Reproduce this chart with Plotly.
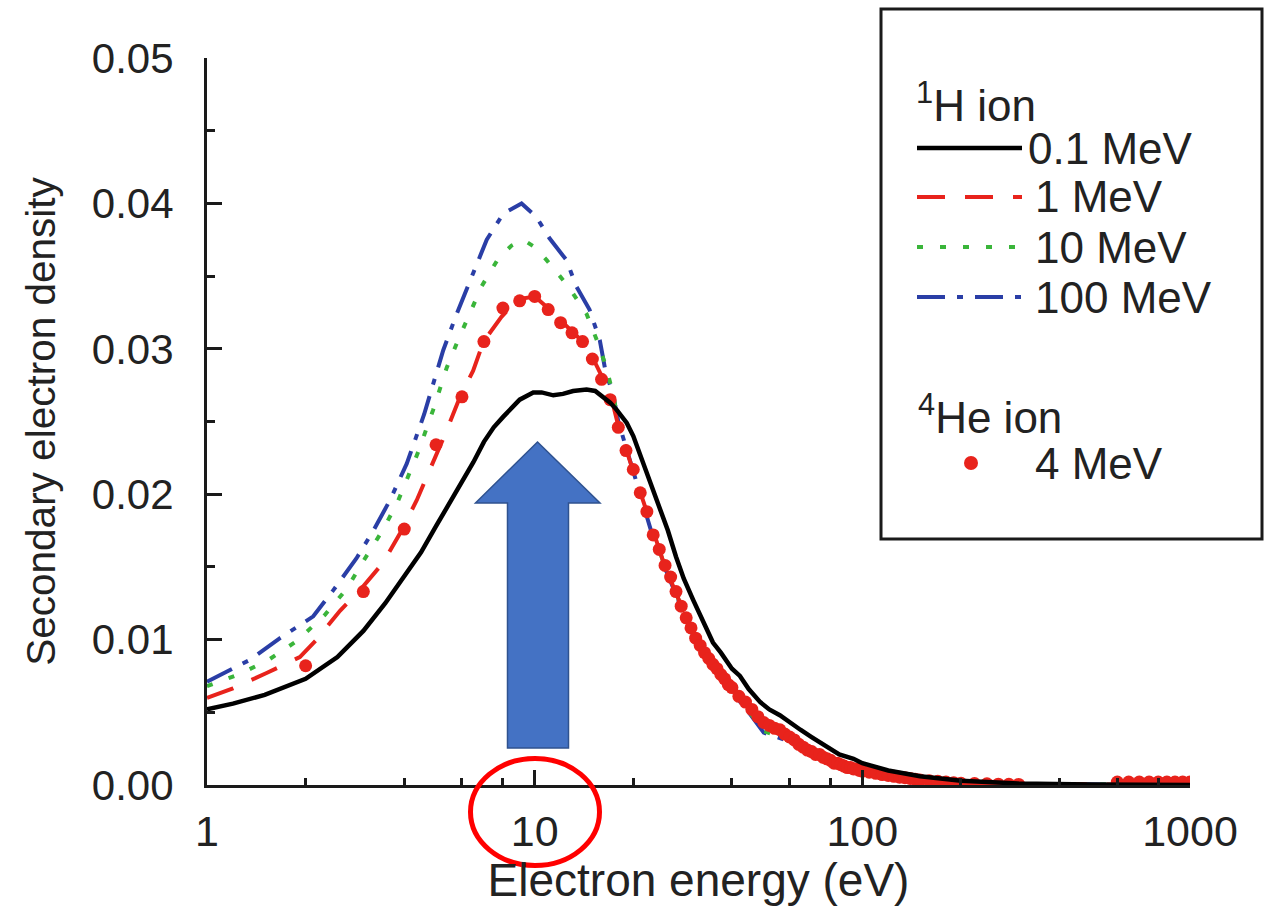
import plotly.graph_objects as go

# ---------------- data ----------------
e_h01 = [1.0, 1.2, 1.5, 2.0, 2.5, 3.0, 3.5, 4.0, 4.5, 5.0, 5.5, 6.0, 6.5, 7.0, 7.5, 8.0, 8.6, 9.0, 9.9,
         10.5, 11.4, 12.2, 13.1, 14.4, 15.3, 16.2, 17.0, 17.8, 19.1, 20.0, 21.5, 23.0, 24.1, 25.5, 27.0,
         28.5, 30.5, 33.0, 35.0, 37.0, 38.5, 40.0, 42.3, 45.0, 48.8, 52.0, 56.0, 60.0, 64.7, 70.0, 77.8,
         85.0, 94.0, 100.0, 120.0, 150.0, 200.0, 300.0, 500.0, 1000.0]
d_h01 = [0.0052, 0.0056, 0.0062, 0.0073, 0.0088, 0.0106, 0.0125, 0.0143, 0.0160, 0.0178, 0.0194, 0.0208,
         0.0222, 0.0236, 0.0246, 0.0253, 0.0260, 0.0265, 0.0270, 0.0270, 0.0268, 0.0269, 0.0271, 0.0272,
         0.0271, 0.0267, 0.0263, 0.0258, 0.0249, 0.0240, 0.0221, 0.0202, 0.0191, 0.0175, 0.0157, 0.0142,
         0.0127, 0.0111, 0.0098, 0.0091, 0.0086, 0.0080, 0.0075, 0.0066, 0.0057, 0.0052, 0.0048, 0.0043,
         0.0038, 0.0033, 0.0026, 0.0021, 0.0018, 0.0015, 0.0010, 0.0006, 0.0003, 0.0001, 0.00003, 0.0]

e_h1 = [1.0, 1.2, 1.52, 1.92, 2.16, 2.55, 2.93, 3.45, 3.88, 4.37, 4.79, 5.3, 5.92, 6.49, 6.98, 7.92, 8.9,
        10.0, 11.1, 12.2, 13.7, 15.1, 16.2, 17.2, 18.0, 19.0, 20.0, 22.0, 25.0, 27.0, 30.0, 33.0, 36.0,
        40.0, 45.0, 50.0, 60.0, 70.0, 80.0, 100.0, 150.0, 200.0, 1000.0]
d_h1 = [0.0060, 0.00665, 0.0077, 0.0088, 0.0100, 0.0120, 0.0134, 0.0153, 0.0173, 0.0196, 0.0217, 0.0240,
        0.0267, 0.0285, 0.0305, 0.0322, 0.0334, 0.0336, 0.0327, 0.0318, 0.0307, 0.0293, 0.0279, 0.0265,
        0.0247, 0.0231, 0.0216, 0.0187, 0.0150, 0.0132, 0.0107, 0.0090, 0.0079, 0.0066, 0.0053, 0.0040,
        0.0031, 0.0023, 0.0017, 0.0009, 0.0003, 0.0001, 0.0]

e_h10 = [1.0, 1.25, 1.54, 1.88, 2.29, 2.67, 3.0, 3.41, 3.79, 4.11, 4.41, 4.9, 5.39, 5.84, 6.34, 6.89, 7.74,
         8.5, 9.23, 10.0, 10.88, 12.65, 14.4, 15.6, 16.5, 17.3, 18.0, 19.0, 20.0, 22.0, 25.0, 27.0, 30.0,
         33.0, 36.0, 40.0, 45.0, 50.0, 55.0, 60.0, 70.0, 80.0, 100.0, 150.0, 200.0, 1000.0]
d_h10 = [0.0068, 0.0076, 0.0086, 0.0099, 0.0117, 0.0135, 0.0154, 0.0174, 0.0193, 0.0212, 0.0229, 0.0258,
         0.0287, 0.0306, 0.0324, 0.0343, 0.0362, 0.0371, 0.0375, 0.0370, 0.0361, 0.0343, 0.0324, 0.0304,
         0.0288, 0.0270, 0.0250, 0.0233, 0.0216, 0.0186, 0.0150, 0.0132, 0.0107, 0.0090, 0.0078, 0.0065,
         0.0051, 0.0037, 0.0034, 0.0030, 0.0022, 0.0016, 0.0009, 0.0003, 0.0001, 0.0]

e_h100 = [1.0, 1.2, 1.35, 1.67, 2.11, 2.43, 2.86, 3.22, 3.62, 4.07, 4.6, 5.26, 5.78, 6.49, 7.14, 8.02, 9.12,
          10.1, 11.1, 12.5, 13.4, 14.7, 15.8, 16.5, 17.3, 18.0, 19.0, 20.0, 21.0, 22.0, 23.0, 24.0, 25.0,
          27.0, 30.0, 33.0, 36.0, 40.0, 45.0, 50.0, 55.0, 60.0, 70.0, 80.0, 100.0, 150.0, 200.0, 1000.0]
d_h100 = [0.0071, 0.0080, 0.0086, 0.0101, 0.0116, 0.0134, 0.0156, 0.0175, 0.0196, 0.0221, 0.0255, 0.0299,
          0.0324, 0.0352, 0.0375, 0.0393, 0.0400, 0.0391, 0.0376, 0.0361, 0.0343, 0.0327, 0.0306, 0.0283,
          0.0270, 0.0250, 0.0232, 0.0215, 0.0199, 0.0185, 0.0170, 0.0160, 0.0149, 0.0131, 0.0106, 0.0089,
          0.0077, 0.0064, 0.0050, 0.0036, 0.0033, 0.0030, 0.0022, 0.0016, 0.0009, 0.0003, 0.0001, 0.0]

e_he4 = [2, 3, 4, 5, 6, 7, 8, 9, 10, 11, 12, 13, 14, 15, 16, 17, 18, 19, 20, 21, 22, 23, 24, 25, 26, 27,
         28, 29, 30, 31, 32, 33, 34, 35, 36, 37, 38, 39, 40, 42, 44, 46, 48, 50, 52, 54, 56, 58, 60, 62,
         64, 66, 68, 70, 72, 74, 76, 78, 80, 82, 84, 86, 88, 90, 92, 94, 96, 98, 100, 105, 110, 115, 120,
         125, 130, 135, 140, 145, 150, 160, 170, 180, 190, 200, 220, 240, 260, 280, 300,
         600, 650, 700, 750, 800, 850, 900, 950, 1000]
d_he4 = [0.0082, 0.0133, 0.0176, 0.0234, 0.0267, 0.0305, 0.0328, 0.0333, 0.0336, 0.0327, 0.0318, 0.0311,
         0.0305, 0.0293, 0.0279, 0.0265, 0.0246, 0.0230, 0.0217, 0.0201, 0.0188, 0.0172, 0.0162, 0.0151,
         0.0143, 0.0133, 0.0123, 0.0115, 0.0108, 0.0101, 0.0096, 0.0091, 0.0087, 0.0083, 0.0080, 0.0076,
         0.0073, 0.0069, 0.0067, 0.0061, 0.0057, 0.0052, 0.0047, 0.0043, 0.0041, 0.0039, 0.0038, 0.0035,
         0.0033, 0.0031, 0.0028, 0.0026, 0.0024, 0.0023, 0.0021, 0.0021, 0.0019, 0.0018, 0.0017, 0.0015,
         0.0015, 0.0014, 0.0013, 0.0012, 0.0012, 0.0011, 0.0011, 0.0010, 0.00095, 0.00088, 0.00080,
         0.00072, 0.00066, 0.00060, 0.00054, 0.00050, 0.00045, 0.00040, 0.00035, 0.00030, 0.00025,
         0.00020, 0.00016, 0.00012, 0.00010, 0.00008, 0.00006, 0.00005, 0.00004,
         0.0002, 0.0002, 0.0002, 0.0002, 0.0002, 0.0002, 0.0002, 0.0002, 0.0002]

x_tick_vals = [1, 10, 100, 1000]
x_tick_text = ["1", "10", "100", "1000"]
x_minor_vals = [2, 4, 6, 8, 20, 40, 60, 80, 200, 400, 600, 800]

legend_h_title = "<sup>1</sup>H ion"
legend_he_title = "<sup>4</sup>He ion"
legend_labels = ["0.1 MeV", "1 MeV", "10 MeV", "100 MeV"]
legend_he_label = "4 MeV"

# ---------------- styles ----------------
FONT = "Liberation Sans, Arial, Helvetica, sans-serif"
TXT = "#222222"
AX = "#1a1a1a"
C_BLACK = "#000000"
C_RED = "#e8231c"
C_GREEN = "#3ab53a"
C_BLUE = "#2a3ea6"
DASH_RED = "28px,20px"
DASH_GREEN = "6px,17px"
DASH_BLUE = "28px,12px,6px,12px"
LEG_SIZE = 44

W, H = 1276, 906
L, R, T, B = 207, 1190, 58, 785


def px(x):
    return (x - L) / (R - L)


def py(y):
    return (B - y) / (B - T)


fig = go.Figure()
fig.add_trace(go.Scatter(x=e_h100, y=d_h100, mode="lines", name="100 MeV",
                         line=dict(color=C_BLUE, width=4, dash=DASH_BLUE), showlegend=False))
fig.add_trace(go.Scatter(x=e_h10, y=d_h10, mode="lines", name="10 MeV",
                         line=dict(color=C_GREEN, width=4, dash=DASH_GREEN), showlegend=False))
fig.add_trace(go.Scatter(x=e_h1, y=d_h1, mode="lines", name="1 MeV",
                         line=dict(color=C_RED, width=4, dash=DASH_RED), showlegend=False))
fig.add_trace(go.Scatter(x=e_he4, y=d_he4, mode="markers", name="4 MeV (4He)",
                         marker=dict(color=C_RED, size=13, line=dict(width=0)), showlegend=False))
fig.add_trace(go.Scatter(x=e_h01, y=d_h01, mode="lines", name="0.1 MeV",
                         line=dict(color=C_BLACK, width=4.5), showlegend=False))

shapes = []
annotations = []

# legend box
shapes.append(dict(type="rect", xref="paper", yref="paper",
                   x0=px(881), x1=px(1262), y0=py(539), y1=py(9),
                   line=dict(color=AX, width=3), fillcolor="white", layer="above"))
annotations.append(dict(xref="paper", yref="paper", x=px(914), y=py(102), text=legend_h_title,
                        showarrow=False, xanchor="left", yanchor="middle",
                        font=dict(size=LEG_SIZE, color=TXT, family=FONT)))
leg_y = [148, 197, 247, 297]
leg_x = [1026, 1033, 1033, 1033]
leg_style = [(C_BLACK, "solid", 4.5), (C_RED, DASH_RED, 4), (C_GREEN, DASH_GREEN, 4), (C_BLUE, DASH_BLUE, 4)]
for yy, xx, lab, (col, dsh, wd) in zip(leg_y, leg_x, legend_labels, leg_style):
    shapes.append(dict(type="line", xref="paper", yref="paper",
                       x0=px(917), x1=px(1022), y0=py(yy), y1=py(yy),
                       line=dict(color=col, width=wd, dash=dsh), layer="above"))
    annotations.append(dict(xref="paper", yref="paper", x=px(xx), y=py(yy), text=lab,
                            showarrow=False, xanchor="left", yanchor="middle",
                            font=dict(size=LEG_SIZE, color=TXT, family=FONT)))
annotations.append(dict(xref="paper", yref="paper", x=px(916), y=py(414), text=legend_he_title,
                        showarrow=False, xanchor="left", yanchor="middle",
                        font=dict(size=LEG_SIZE, color=TXT, family=FONT)))
shapes.append(dict(type="circle", xref="paper", yref="paper",
                   x0=px(964), x1=px(978), y0=py(470), y1=py(456),
                   line=dict(width=0), fillcolor=C_RED, layer="above"))
annotations.append(dict(xref="paper", yref="paper", x=px(1033), y=py(463), text=legend_he_label,
                        showarrow=False, xanchor="left", yanchor="middle",
                        font=dict(size=LEG_SIZE, color=TXT, family=FONT)))

# blue block arrow
pts = [(537.5, 442), (600, 503), (568.5, 503), (568.5, 748), (507.5, 748), (507.5, 503), (475.5, 503)]
path = "M " + " L ".join(f"{px(a):.5f},{py(b):.5f}" for a, b in pts) + " Z"
shapes.append(dict(type="path", xref="paper", yref="paper", path=path,
                   fillcolor="#4472C4", line=dict(color="#2F528F", width=1.5), layer="above"))

# red ellipse around the 10 label
shapes.append(dict(type="circle", xref="paper", yref="paper",
                   x0=px(470.5), x1=px(599.5), y0=py(865.5), y1=py(758.5),
                   line=dict(color="#ff0000", width=5), fillcolor="rgba(0,0,0,0)", layer="above"))

fig.update_layout(
    width=W, height=H, autosize=False,
    margin=dict(l=L, r=W - R, t=T, b=H - B, pad=0),
    paper_bgcolor="white", plot_bgcolor="white",
    font=dict(family=FONT, color=TXT),
    showlegend=False,
    shapes=shapes, annotations=annotations,
    xaxis=dict(
        type="log", range=[0, 3], automargin=False,
        tickmode="array", tickvals=x_tick_vals, ticktext=x_tick_text,
        ticks="inside", ticklen=15, tickwidth=2.5, tickcolor=AX,
        minor=dict(tickmode="array", tickvals=x_minor_vals, ticks="inside", ticklen=7,
                   tickwidth=2.5, tickcolor=AX, showgrid=False),
        showline=True, linewidth=3, linecolor=AX, showgrid=False, zeroline=False,
        tickfont=dict(size=43, color=TXT, family=FONT), ticklabelstandoff=6,
        title=dict(text="Electron energy (eV)", font=dict(size=46, color=TXT, family=FONT), standoff=14),
    ),
    yaxis=dict(
        range=[0, 0.05], dtick=0.01, tick0=0, tickformat=".2f", automargin=False,
        ticks="inside", ticklen=15, tickwidth=2.5, tickcolor=AX,
        minor=dict(dtick=0.005, ticks="inside", ticklen=8, tickwidth=2.5, tickcolor=AX, showgrid=False),
        showline=True, linewidth=3, linecolor=AX, showgrid=False, zeroline=False,
        tickfont=dict(size=42, color=TXT, family=FONT), ticklabelstandoff=22,
        title=dict(text="Secondary electron density", font=dict(size=40.5, color=TXT, family=FONT), standoff=24),
    ),
)

fig.write_html("out.html")
